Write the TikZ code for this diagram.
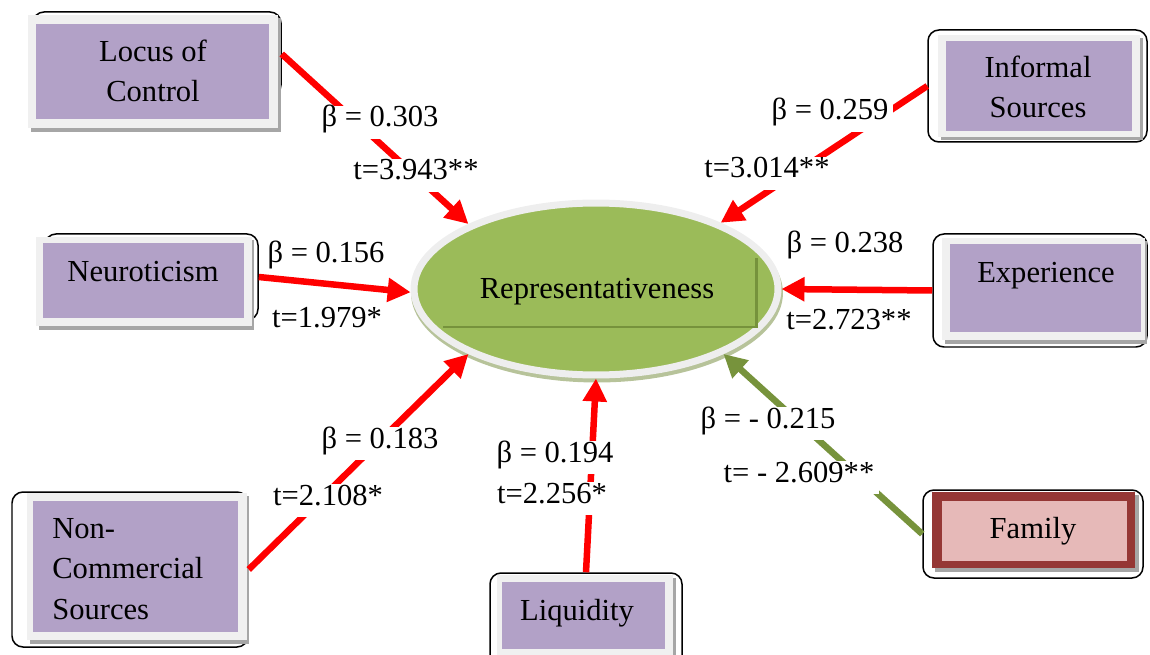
\documentclass[tikz,border=0pt]{standalone}
\usepackage{fontspec}
\setmainfont{Liberation Serif}
\usepackage{xcolor}
\usepackage{tikz}
\usetikzlibrary{arrows.meta,fit,shapes.geometric}
\definecolor{mBoxPurple}{HTML}{B2A1C7}
\definecolor{mFrameGrey}{HTML}{F0F0F0}
\definecolor{mShadeGrey}{HTML}{A6A6A6}
\definecolor{mRepGreen}{HTML}{9BBB59}
\definecolor{mRepDark}{HTML}{76923C}
\definecolor{mRepRing}{HTML}{EEEEEE}
\definecolor{mRepShade}{HTML}{B7C39A}
\definecolor{mPathRed}{HTML}{FF0000}
\definecolor{mPathGreen}{HTML}{77933C}
\definecolor{mFamBorder}{HTML}{953735}
\definecolor{mFamFill}{HTML}{E6B9B8}
\tikzset{
  rimbox/.style={draw=black, line width=0.03cm, rounded corners=0.22cm, inner sep=0pt},
  varbox/.style={fill=mBoxPurple, inner sep=0pt},
  vartext/.style={inner sep=0pt, align=center, anchor=base},
  coef/.style={fill=white, inner xsep=0.1cm, inner ysep=0.155cm, text height=0.75em, text depth=0.25em, anchor=base},
  redpath/.style={draw=mPathRed, line width=0.13cm, -{Triangle[length=0.46cm,width=0.46cm]}},
  greenpath/.style={redpath, draw=mPathGreen},
}

\begin{document}
\begin{tikzpicture}[x=0.02cm, y=-0.02cm, font=\fontsize{17.4}{22.8}\selectfont]
\useasboundingbox (0,0) rectangle (1150,655);
\clip (0,0) rectangle (1150,655);
% predictor boxes
\node[rimbox, fit={(33,12) (281,96)}] (locRim) {};
\fill[mShadeGrey] (31,18) rectangle (281,132);
\fill[mFrameGrey] (28,15) rectangle (278,128);
\node[varbox, fit={(36,24) (269,119)}] (loc) {};
\node[vartext] (locText) at (153,102) {Locus of\\Control};

\node[rimbox, fit={(928,30) (1147,142)}] (infRim) {};
\fill[mShadeGrey] (941,38) rectangle (1143,140);
\fill[mFrameGrey] (938,35) rectangle (1140,137);
\node[varbox, fit={(946,41) (1132,131)}] (inf) {};
\node[vartext] (infText) at (1038,118) {Informal\\Sources};

\node[rimbox, fit={(45,234) (258,320)}] (neuRim) {};
\fill[mShadeGrey] (39,240) rectangle (254,330);
\fill[mFrameGrey] (36,237) rectangle (252,326);
\node[varbox, fit={(43,243) (244,318)}] (neu) {};
\node[vartext] (neuText) at (143,282) {Neuroticism};

\node[rimbox, fit={(933,234) (1147,347)}] (expRim) {};
\fill[mShadeGrey] (945,241) rectangle (1147,344);
\fill[mFrameGrey] (942,238) rectangle (1145,340);
\node[varbox, fit={(950,244) (1141,332)}] (exp) {};
\node[vartext] (expText) at (1046,283) {Experience};

\node[rimbox, fit={(12,492) (248,647)}] (ncsRim) {};
\fill[mShadeGrey] (30,496) rectangle (249,644);
\fill[mFrameGrey] (27,493) rectangle (247,640);
\node[varbox, fit={(33,501) (238,632)}] (ncs) {};
\node[vartext, align=left, anchor=base west] (ncsText) at (52,619) {Non-\\Commercial\\Sources};

\node[rimbox, fit={(490,573) (682,675)}] (liqRim) {};
\fill[mShadeGrey] (500,578) rectangle (676,675);
\fill[mFrameGrey] (497,575) rectangle (673,675);
\node[varbox, fit={(502,582) (665,649)}] (liq) {};
\node[vartext] (liqText) at (577,620) {Liquidity};

\node[rimbox, fit={(923,490) (1143,578)}] (famRim) {};
\fill[mShadeGrey] (935,495) rectangle (1139,572);
\fill[mFamBorder] (932,492) rectangle (1135,568);
\node[fill=mFamFill, inner sep=0pt, fit={(942,501) (1127,561)}] (fam) {};
\node[vartext] (famText) at (1033,538) {Family};

% outcome
\fill[mRepShade] (597,293) ellipse [x radius=3.72cm, y radius=1.79cm];
\node[ellipse, draw=mRepRing, line width=0.14cm, fill=mRepGreen, minimum width=7.28cm, minimum height=3.44cm, inner sep=0pt] (rep) at (596,289) {};
\draw[mRepDark, line width=0.06cm] (443,327) -- (756,327) -- (756,258);
\node[vartext] (repText) at (597,298) {Representativeness};

% paths
\draw[redpath] (locRim.east) -- (rep.153);
\draw[redpath] (infRim.west) -- (rep.28);
\draw[redpath] (neuRim.east) -- (rep.181);
\draw[redpath] (expRim.west) -- (rep.0);
\draw[redpath] (ncsRim.east) -- (rep.207);
\draw[redpath] (liqRim.north) -- (rep.270);
\draw[greenpath] (famRim.west) -- (rep.333);

% coefficients
\node[coef] (locB) at (380,127) {β = 0.303};
\node[coef] (locT) at (416,180) {t=3.943**};
\node[coef] (infB) at (830,120) {β = 0.259};
\node[coef] (infT) at (767,178) {t=3.014**};
\node[coef, fill=none] (neuB) at (326,263) {β = 0.156};
\node[coef] (neuT) at (327,328) {t=1.979*};
\node[coef] (expB) at (845,253) {β = 0.238};
\node[coef] (expT) at (849,330) {t=2.723**};
\node[coef] (ncsB) at (380,448) {β = 0.183};
\node[coef] (ncsT) at (328,505) {t=2.108*};
\node[coef] (liqB) at (555,462) {β = 0.194};
\node[coef] (liqT) at (552,503) {t=2.256*};
\node[coef] (famB) at (768,428) {β = - 0.215};
\node[coef] (famT) at (799,482) {t= - 2.609**};
\end{tikzpicture}
\end{document}
